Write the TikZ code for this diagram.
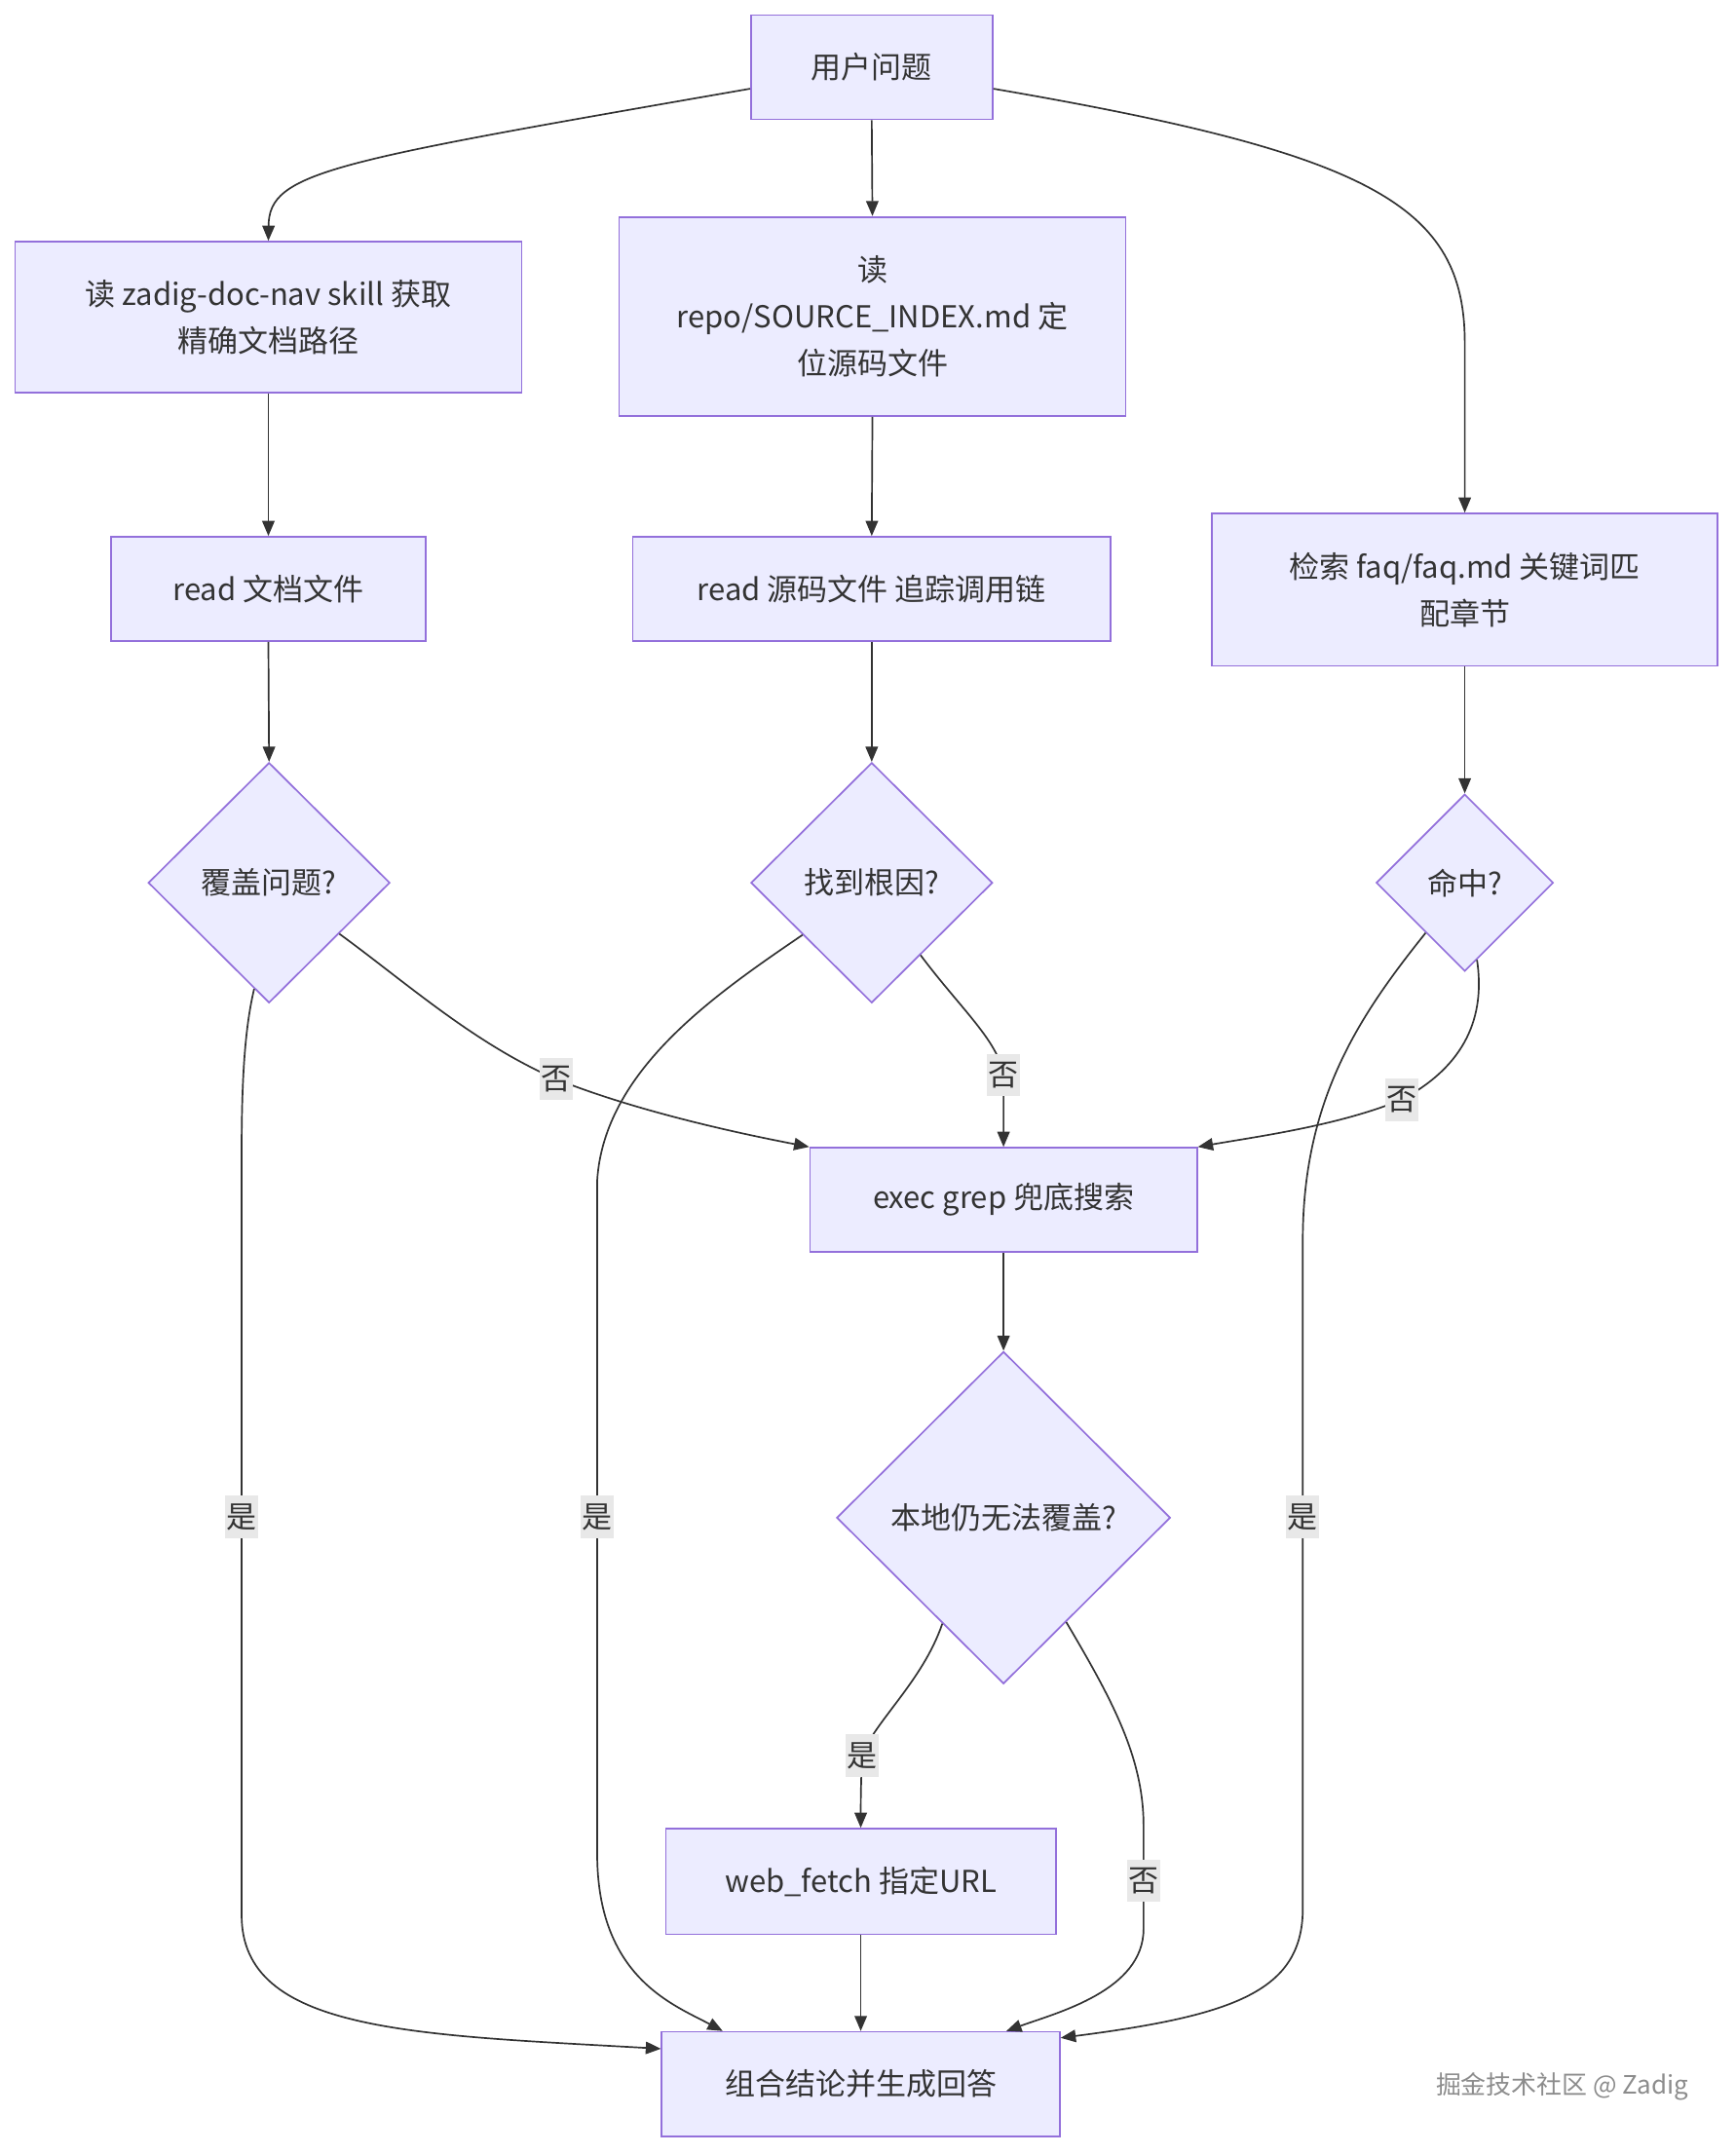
\documentclass[tikz,border=0pt]{standalone}
\usepackage{fontspec}
\setmainfont{Noto Sans CJK SC}
\usepackage{tikz}
\usetikzlibrary{arrows.meta, shapes.geometric}
\definecolor{nodefill}{HTML}{ECECFF}
\definecolor{nodeline}{HTML}{9370DB}
\definecolor{ink}{HTML}{333333}
\definecolor{labelbg}{HTML}{E8E8E8}
\tikzset{
		every node/.style={font=\fontsize{11}{17}\selectfont, text=ink},
		process/.style={draw=nodeline, fill=nodefill, line width=0.6pt, rectangle, align=center, inner sep=0pt},
		decision/.style={draw=nodeline, fill=nodefill, line width=0.6pt, diamond, aspect=1, align=center, inner sep=0pt},
		branch/.style={fill=labelbg, inner xsep=0.5pt, inner ysep=3pt},
		flow/.style={draw=ink, line width=0.6pt, ->}
	}

\begin{document}
\begin{tikzpicture}[x=0.5pt, y=-0.5pt, >={Triangle[length=5.5pt,width=4.5pt]}]
		\useasboundingbox (0,0) rectangle (1264,1569);

		\node[process, minimum width=88pt, minimum height=38pt]     (ask)    at (635,49)     {用户问题};
		\node[process, minimum width=184.5pt, minimum height=55pt]  (docnav) at (195.5,231)  {读 zadig-doc-nav skill 获取\\精确文档路径};
		\node[process, minimum width=184.5pt, minimum height=72.5pt] (srcidx) at (635.5,230.5) {读\\repo/SOURCE\_INDEX.md 定\\位源码文件};
		\node[process, minimum width=114.5pt, minimum height=38pt]  (readdoc) at (195.5,429) {read 文档文件};
		\node[process, minimum width=174pt, minimum height=38pt]    (readsrc) at (635,429)   {read 源码文件 追踪调用链};
		\node[process, minimum width=184pt, minimum height=55.5pt]  (faq)    at (1067,429.5) {检索 faq/faq.md 关键词匹\\配章节};

		\node[decision, minimum width=88pt, minimum height=87.5pt]  (covq)   at (196,643)    {覆盖问题?};
		\node[decision, minimum width=88pt, minimum height=87.5pt]  (rootq)  at (635,643)    {找到根因?};
		\node[decision, minimum width=64.5pt, minimum height=64.5pt] (hitq)  at (1067,643)   {命中?};

		\node[process, minimum width=141pt, minimum height=38pt]    (grep)   at (731,874)    {exec grep 兜底搜索};
		\node[decision, minimum width=121.5pt, minimum height=121pt] (localq) at (731,1105.5) {本地仍无法覆盖?};
		\node[process, minimum width=142pt, minimum height=38.5pt]  (fetch)  at (627,1370.5) {web\_fetch 指定URL};
		\node[process, minimum width=145pt, minimum height=38pt]    (answer) at (627,1518)   {组合结论并生成回答};

		\node[font=\fontsize{9.2}{12}\selectfont, text=black!45] (mark) at (1138,1520) {掘金技术社区 @ Zadig};

		% top fan-out
		\draw[flow] (ask.190) .. controls (240,118) and (196,125) .. (docnav.north);
		\draw[flow] (ask.south) -- (srcidx.north);
		\draw[flow] (ask.-10) .. controls (1000,112) and (1067,150) .. (1067,250) -- (faq.north);

		\draw[flow] (docnav.south) -- (readdoc.north);
		\draw[flow] (srcidx.south) -- (readsrc.north);
		\draw[flow] (readdoc.south) -- (covq.north);
		\draw[flow] (readsrc.south) -- (rootq.north);
		\draw[flow] (faq.south) -- (hitq.north);

		% no: fall back to grep
		\draw[flow] (covq.-36) .. controls (295,715) and (345,760) .. (405,786) node[branch] {否}
			.. controls (460,808) and (530,824) .. (grep.north west);
		\draw[flow] (rootq.-56) .. controls (700,735) and (727,758) .. (731,783) node[branch] {否} -- (grep.north);
		\draw[flow] (hitq.-81) .. controls (1082,740) and (1068,776) .. (1021,801) node[branch] {否}
			.. controls (975,820) and (915,828) .. (grep.north east);

		% yes: straight to the answer
		\draw[flow] (covq.-98) .. controls (178,750) and (176,790) .. (176,840) -- (176,1105) node[branch] {是}
			-- (176,1395) .. controls (176,1480) and (300,1482) .. (answer.170);
		\draw[flow] (rootq.217) .. controls (520,725) and (440,780) .. (435,860) -- (435,1105) node[branch] {是}
			-- (435,1350) .. controls (435,1440) and (490,1460) .. (answer.159.6);
		\draw[flow] (hitq.-128) .. controls (990,740) and (950,800) .. (949,900) -- (949,1105) node[branch] {是}
			-- (949,1390) .. controls (949,1450) and (900,1468) .. (answer.13);

		\draw[flow] (grep.south) -- (localq.north);
		\draw[flow] (localq.-120) .. controls (672,1225) and (636,1255) .. (628,1279) node[branch] {是}
			.. controls (627,1300) and (627,1315) .. (fetch.north);
		\draw[flow] (localq.-59) .. controls (810,1238) and (833,1280) .. (833,1330) -- (833,1370) node[branch] {否}
			-- (833,1405) .. controls (833,1450) and (770,1466) .. (answer.20);
		\draw[flow] (fetch.south) -- (answer.north);
	\end{tikzpicture}
\end{document}
